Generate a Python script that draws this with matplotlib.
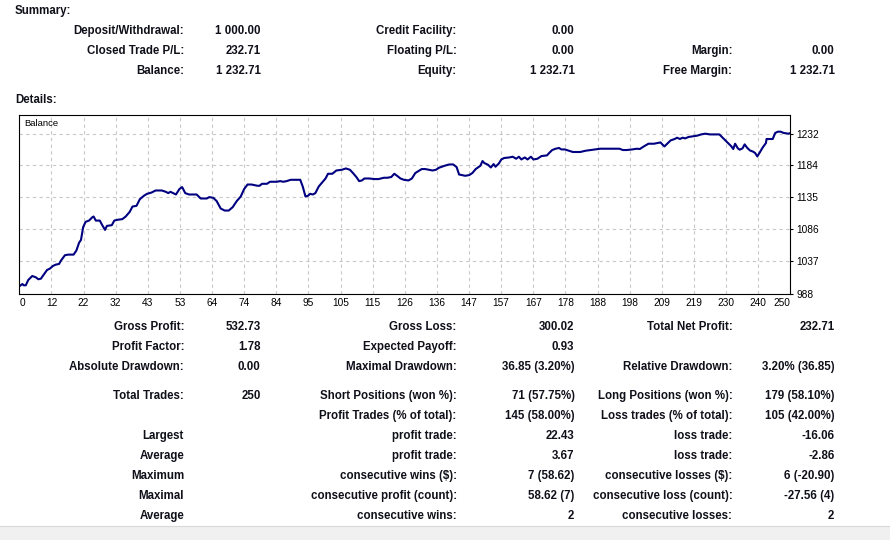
import matplotlib
matplotlib.use("Agg")
import matplotlib.pyplot as plt
import numpy as np

# ---------------- data ----------------
trade_no = [0.3, 1.0, 1.4, 2.1, 2.9, 4.2, 5.3, 6.2, 7.0, 7.9, 9.0, 9.9, 10.9, 11.8, 12.9, 13.5,
            14.8, 15.9, 17.6, 18.5, 19.4, 20.0, 20.7, 21.5, 22.6, 23.7, 24.1, 24.8, 26.1, 26.9,
            27.8, 28.4, 30.0, 30.8, 31.7, 33.4, 34.5, 35.8, 36.7, 38.0, 39.1, 40.4, 41.4, 42.9,
            44.2, 46.2, 47.5, 48.3, 49.0, 49.9, 50.8, 51.9, 52.8, 53.8, 55.0, 57.5, 58.8, 60.8,
            61.6, 62.9, 64.0, 65.3, 66.6, 67.9, 69.2, 70.5, 71.8, 72.9, 74.0, 75.3, 77.2, 77.9,
            78.7, 80.3, 81.3, 83.5, 84.6, 85.6, 86.7, 88.0, 89.1, 91.1, 91.9, 92.8, 93.6, 94.3,
            95.2, 96.0, 97.1, 98.4, 99.3, 100.1, 100.8, 101.5, 102.8, 104.6, 105.9, 107.2, 108.2,
            109.3, 110.2, 111.1, 111.9, 113.4, 115.2, 116.5, 118.2, 119.3, 120.6, 121.6, 122.5,
            123.6, 124.7, 126.2, 127.3, 128.4, 129.4, 130.5, 131.6, 132.9, 134.0, 135.1, 136.1,
            137.9, 139.4, 140.7, 141.8, 142.6, 143.5, 144.6, 145.9, 146.9, 148.0, 148.9, 149.5,
            150.2, 150.8, 152.0, 152.9, 153.8, 154.4, 155.5, 156.3, 157.2, 158.9, 160.0, 161.1,
            162.0, 162.8, 163.9, 164.8, 165.9, 166.7, 168.0, 169.3, 171.1, 171.9, 172.8, 173.9,
            175.0, 175.8, 176.9, 178.2, 179.5, 181.9, 183.6, 185.4, 186.6, 188.4, 191.6, 194.6,
            195.7, 197.0, 198.7, 200.3, 201.2, 202.5, 204.0, 205.8, 207.9, 208.5, 209.2, 210.1,
            211.2, 212.5, 213.3, 214.2, 215.1, 215.9, 217.0, 218.3, 219.8, 221.1, 222.4, 224.0,
            225.7, 227.0, 228.3, 229.6, 230.9, 231.5, 232.1, 233.0, 233.6, 234.5, 235.2, 236.0,
            236.9, 238.0, 238.6, 239.3, 240.1, 241.0, 242.1, 242.3, 244.3, 245.1, 246.0, 246.8,
            247.9, 249.4, 250.0]
balance = [1000.0, 1002.5, 1000.5, 1000.5, 1008.6, 1014.7, 1012.8, 1009.7, 1010.6, 1016.7, 1023.9,
           1025.9, 1030.0, 1032.0, 1033.1, 1038.1, 1046.4, 1047.3, 1047.3, 1053.4, 1065.6, 1069.7,
           1089.2, 1097.3, 1099.2, 1104.4, 1105.4, 1099.2, 1099.2, 1092.2, 1085.0, 1091.1, 1092.2,
           1099.2, 1100.3, 1101.4, 1105.4, 1112.5, 1120.6, 1121.7, 1131.9, 1137.0, 1140.0, 1142.0,
           1145.1, 1145.1, 1143.1, 1141.1, 1143.1, 1141.1, 1139.0, 1147.2, 1150.3, 1141.1, 1139.0,
           1139.0, 1132.9, 1132.9, 1135.0, 1133.9, 1128.9, 1117.6, 1114.5, 1114.5, 1119.7, 1128.9,
           1135.9, 1147.2, 1154.2, 1154.2, 1152.3, 1152.3, 1155.3, 1155.3, 1158.4, 1158.4, 1159.4,
           1158.4, 1159.4, 1161.4, 1161.4, 1161.4, 1151.2, 1135.9, 1137.0, 1140.0, 1139.0, 1141.1,
           1151.2, 1158.4, 1163.4, 1170.6, 1170.6, 1170.6, 1175.6, 1176.7, 1178.7, 1176.7, 1171.7,
           1165.6, 1159.4, 1160.4, 1163.4, 1163.4, 1162.5, 1162.5, 1164.5, 1164.5, 1165.6, 1170.6,
           1167.5, 1163.4, 1161.4, 1160.4, 1163.4, 1171.7, 1174.7, 1177.8, 1177.8, 1176.7, 1175.6,
           1176.7, 1179.8, 1182.8, 1184.8, 1184.8, 1180.8, 1169.5, 1168.6, 1167.5, 1168.6, 1171.7,
           1177.8, 1180.8, 1182.8, 1190.0, 1186.9, 1184.3, 1180.2, 1185.4, 1181.3, 1186.3, 1192.4,
           1194.6, 1195.5, 1196.6, 1193.5, 1196.6, 1192.4, 1195.5, 1192.4, 1196.6, 1192.4, 1193.5,
           1197.6, 1198.6, 1202.7, 1206.8, 1208.8, 1209.9, 1207.7, 1207.7, 1205.7, 1203.8, 1203.8,
           1205.7, 1206.8, 1207.7, 1208.8, 1208.8, 1208.8, 1206.8, 1206.8, 1207.7, 1208.8, 1208.3,
           1212.3, 1216.4, 1216.4, 1218.4, 1215.4, 1212.3, 1216.4, 1221.5, 1223.6, 1225.6, 1223.6,
           1225.6, 1224.5, 1226.7, 1227.6, 1228.7, 1230.6, 1231.7, 1230.6, 1230.6, 1230.6, 1224.5,
           1218.4, 1212.3, 1208.3, 1216.4, 1209.3, 1207.3, 1209.3, 1215.4, 1210.3, 1206.2, 1204.2,
           1202.2, 1197.0, 1203.1, 1210.3, 1217.5, 1223.6, 1223.6, 1232.8, 1234.8, 1234.8, 1232.8,
           1231.7, 1232.71]

x_tick_labels = ["0", "12", "22", "32", "43", "53", "64", "74", "84", "95", "105", "115", "126",
                 "136", "147", "157", "167", "178", "188", "198", "209", "219", "230", "240", "250"]
y_tick_values = [988, 1037, 1086, 1135, 1184, 1232]
total_trades = 250

summary_rows = [
    ["Deposit/Withdrawal:", "1 000.00", "Credit Facility:", "0.00", "", ""],
    ["Closed Trade P/L:", "232.71", "Floating P/L:", "0.00", "Margin:", "0.00"],
    ["Balance:", "1 232.71", "Equity:", "1 232.71", "Free Margin:", "1 232.71"],
]
detail_rows = [
    ["Gross Profit:", "532.73", "Gross Loss:", "300.02", "Total Net Profit:", "232.71"],
    ["Profit Factor:", "1.78", "Expected Payoff:", "0.93", "", ""],
    ["Absolute Drawdown:", "0.00", "Maximal Drawdown:", "36.85 (3.20%)", "Relative Drawdown:", "3.20% (36.85)"],
    ["Total Trades:", "250", "Short Positions (won %):", "71 (57.75%)", "Long Positions (won %):", "179 (58.10%)"],
    ["", "", "Profit Trades (% of total):", "145 (58.00%)", "Loss trades (% of total):", "105 (42.00%)"],
    ["Largest", "", "profit trade:", "22.43", "loss trade:", "-16.06"],
    ["Average", "", "profit trade:", "3.67", "loss trade:", "-2.86"],
    ["Maximum", "", "consecutive wins ($):", "7 (58.62)", "consecutive losses ($):", "6 (-20.90)"],
    ["Maximal", "", "consecutive profit (count):", "58.62 (7)", "consecutive loss (count):", "-27.56 (4)"],
    ["Average", "", "consecutive wins:", "2", "consecutive losses:", "2"],
]

# ---------------- layout ----------------
W, H = 890, 540
fig = plt.figure(figsize=(W / 100, H / 100), dpi=100)
fig.patch.set_facecolor("white")

def fx(x):
    return x / W

def fy(y):
    return 1 - y / H

def baseline_y(yc):
    # integer pixel baseline a few pixels below the row centre
    return fy(float(int(yc + 4.0)) + 0.2)

FONT = "Liberation Sans"
TXT = "#10101a"
FS = 8.3

# bottom grey strip
fig.patches.append(plt.Rectangle((0, 0), 1, fy(526), transform=fig.transFigure,
                                 facecolor="#f0f0f0", edgecolor="none"))
fig.add_artist(plt.Line2D([0, 1], [fy(526), fy(526)], transform=fig.transFigure,
                          color="#d8d8d8", lw=0.8))

# section titles
fig.text(fx(15), baseline_y(10.5), "Summary:", ha="left", va="baseline", fontsize=FS,
         fontweight="bold", family=FONT, color=TXT)
fig.text(fx(15), baseline_y(99.5), "Details:", ha="left", va="baseline", fontsize=FS,
         fontweight="bold", family=FONT, color=TXT)

col_right = [184, 260.5, 456.7, 574.5, 732.3, 834.5]

def draw_rows(rows, ys):
    for row, yy in zip(rows, ys):
        for txt, xr in zip(row, col_right):
            if txt:
                fig.text(fx(xr), baseline_y(yy), txt, ha="right", va="baseline", fontsize=FS,
                         fontweight="bold", family=FONT, color=TXT)

draw_rows(summary_rows, [30.5, 50.5, 70.5])
draw_rows(detail_rows, [326.5, 346.5, 366.5, 395, 415, 435, 455, 475, 495, 515])

# ---------------- chart ----------------
left, right, top, bottom = 19.3, 790.3, 115, 293.5
ax = fig.add_axes([fx(left), fy(bottom), (right - left) / W, (bottom - top) / H])
ax.plot(trade_no, balance, color="#000080", lw=1.5, solid_joinstyle="round")

ax.set_xlim(0, total_trades)
ymin = y_tick_values[0]
step = (y_tick_values[-1] - y_tick_values[0]) / (len(y_tick_values) - 1)
ax.set_ylim(ymin, ymin + step * (bottom - top) / 32.0)

ax.set_xticks(np.linspace(0, total_trades, len(x_tick_labels)))
ax.set_xticklabels(x_tick_labels)
ax.set_yticks(y_tick_values)
ax.set_yticklabels([str(v) for v in y_tick_values])
ax.yaxis.tick_right()
ax.tick_params(axis="x", length=0, pad=3.5, labelsize=7.3, labelcolor="black")
ax.tick_params(axis="y", length=2, pad=2.5, labelsize=7.3, labelcolor="black", direction="out")
for lab in ax.get_xticklabels() + ax.get_yticklabels():
    lab.set_family(FONT)
xl = ax.get_xticklabels()
xl[0].set_ha("left")
xl[-1].set_ha("right")

ax.grid(True, color="#c8c8c8", linestyle=(0, (3, 3)), lw=0.8)
ax.set_axisbelow(True)
for sp in ax.spines.values():
    sp.set_color("black")
    sp.set_linewidth(0.8)

ax.text(0.006, 0.975, "Balance", transform=ax.transAxes, ha="left", va="top",
        fontsize=6.8, family=FONT, color="black")

fig.savefig("out.png", dpi=100, facecolor="white")
